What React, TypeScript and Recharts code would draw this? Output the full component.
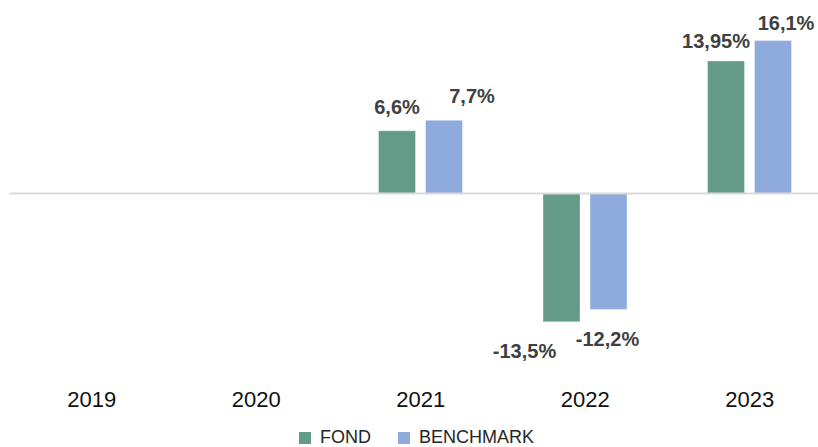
import React from 'react';
import { BarChart, Bar, XAxis, YAxis, ReferenceLine, Legend, LabelList } from 'recharts';

const years = ['2019', '2020', '2021', '2022', '2023'];
const fond = [null, null, 6.6, -13.5, 13.95];
const benchmark = [null, null, 7.7, -12.2, 16.1];

// hand-placed label nudges (dx, dy) like in the original sheet
const fondLabelShift = [[0, 0], [0, 0], [0, -2.7], [-37, 0], [-10, 1.3]];
const benchLabelShift = [[0, 0], [0, 0], [28, -3.7], [-1, 0], [13, 3]];

const FONT = '"Liberation Sans", Arial, sans-serif';
const GREEN = '#639B88';
const BLUE = '#8FABDD';

const data = years.map((year, i) => ({ year, FOND: fond[i], BENCHMARK: benchmark[i] }));

const fmt = (v: number) => `${String(v).replace('.', ',')}%`;

function makeLabel(values: (number | null)[], shifts: number[][]) {
  return (props: any) => {
    const { value } = props;
    if (value === null || value === undefined) return null;
    // LabelList index skips empty points, so look the value up in its own series
    const idx = values.indexOf(Number(value));
    const vb = props.viewBox || props;
    const x = Number(vb.x);
    const y = Number(vb.y);
    const w = Number(vb.width);
    const h = Number(vb.height);
    const top = Math.min(y, y + h);
    const bottom = Math.max(y, y + h);
    const [dx, dy] = shifts[idx] || [0, 0];
    const cx = x + w / 2 + dx;
    const baseY = Number(value) >= 0 ? top - 14 : bottom + 36.6;
    return (
      <text
        x={cx}
        y={baseY + dy}
        textAnchor="middle"
        fontFamily={FONT}
        fontSize={20}
        fontWeight="bold"
        fill="#404040"
      >
        {fmt(Number(value))}
      </text>
    );
  };
}

const legendItems = [
  { name: 'FOND', color: GREEN },
  { name: 'BENCHMARK', color: BLUE },
];

const renderLegend = () => (
  <div
    style={{
      display: 'flex',
      justifyContent: 'center',
      alignItems: 'center',
      gap: 27,
      paddingTop: 5,
      height: 19,
      fontFamily: FONT,
      fontSize: 18,
      color: '#262626',
    }}
  >
    {legendItems.map((it) => (
      <span key={it.name} style={{ display: 'flex', alignItems: 'center' }}>
        <span style={{ width: 12, height: 12, background: it.color, marginRight: 9, display: 'inline-block' }} />
        {it.name}
      </span>
    ))}
  </div>
);

export default function App() {
  return (
    <div style={{ position: 'absolute', left: 0, top: 0, width: 818, height: 447, overflow: 'hidden', background: '#fff' }}>
      <BarChart
        width={840}
        height={447}
        data={data}
        margin={{ top: 3.5, right: 8, bottom: 0, left: 9.5 }}
        barSize={37}
        barGap={10}
      >
        <XAxis
          dataKey="year"
          axisLine={false}
          tickLine={false}
          interval={0}
          height={39.5}
          tick={{ fontFamily: FONT, fontSize: 22, fill: '#111' }}
        />
        <YAxis hide domain={[-20, 20]} />
        <ReferenceLine y={0} stroke="#d9d9d9" strokeWidth={2} />
        <Legend
          verticalAlign="bottom"
          content={renderLegend}
          wrapperStyle={{ left: 0, width: 833, bottom: 0, height: 24 }}
        />
        <Bar dataKey="FOND" fill={GREEN} stroke="#ffffff" strokeOpacity={0.35} isAnimationActive={false}>
          <LabelList dataKey="FOND" content={makeLabel(fond, fondLabelShift)} />
        </Bar>
        <Bar dataKey="BENCHMARK" fill={BLUE} stroke="#ffffff" strokeOpacity={0.35} isAnimationActive={false}>
          <LabelList dataKey="BENCHMARK" content={makeLabel(benchmark, benchLabelShift)} />
        </Bar>
      </BarChart>
    </div>
  );
}
